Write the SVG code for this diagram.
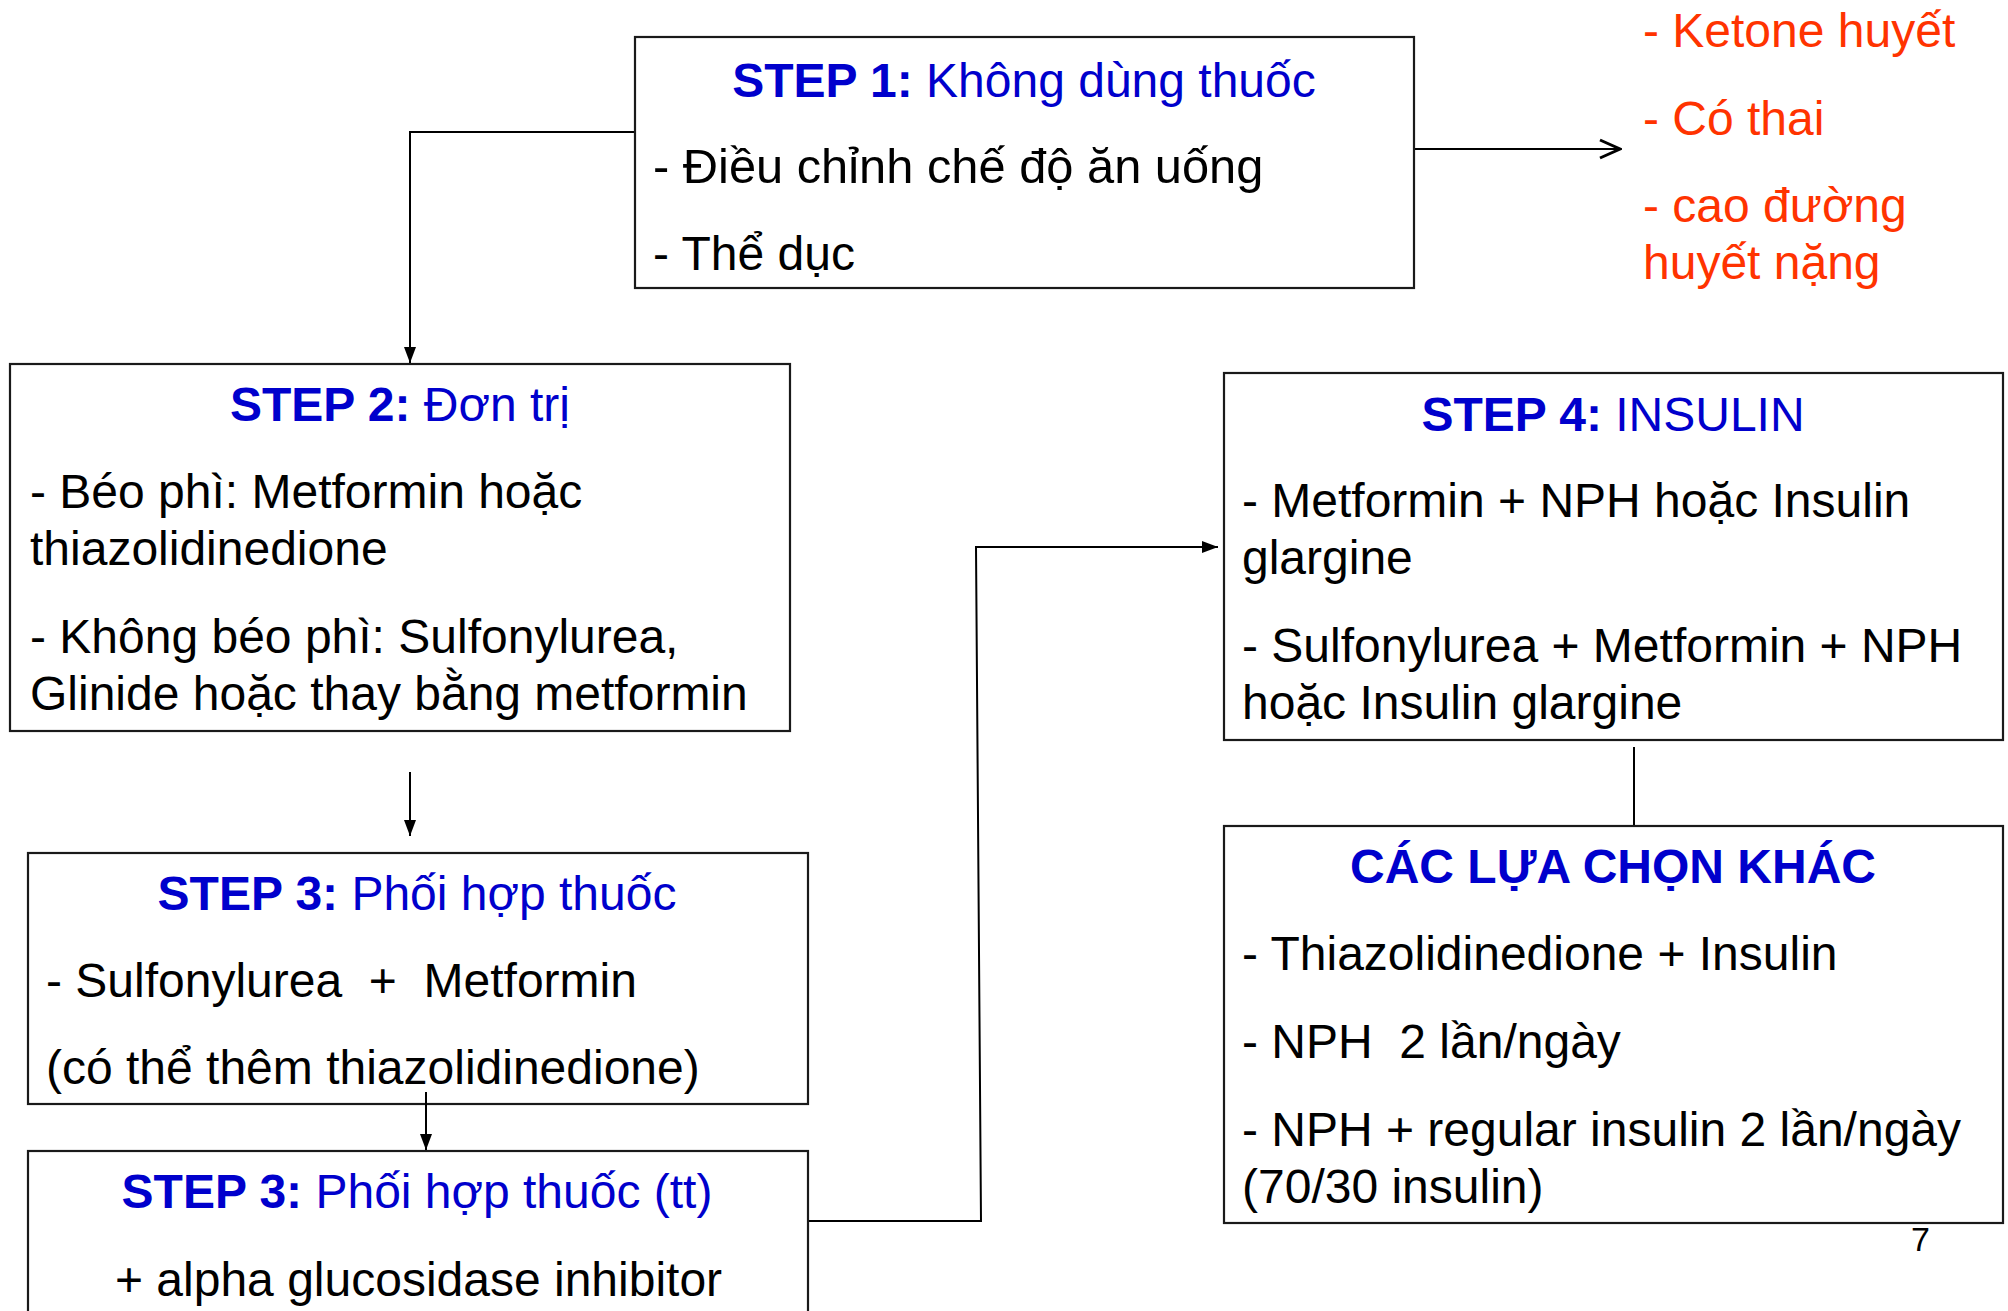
<svg xmlns="http://www.w3.org/2000/svg" width="2008" height="1311" viewBox="0 0 2008 1311">
<defs>
<style>
text{font-family:"Liberation Sans",Arial,sans-serif;font-size:48px;fill:#000}
.t{fill:#0000CC;text-anchor:middle}
.b{font-weight:bold}
.r{fill:#FF3300}
.box{fill:#fff;stroke:#1a1a1a;stroke-width:2.2}
.c{fill:none;stroke:#000;stroke-width:2}
</style>
<marker id="tri2" viewBox="0 0 16 16" refX="16" refY="8" markerWidth="16" markerHeight="16" orient="auto" markerUnits="userSpaceOnUse">
<path d="M0,2 L16,8 L0,14 z" fill="#000"/>
</marker>
<marker id="open" viewBox="0 0 24 24" refX="22" refY="12" markerWidth="24" markerHeight="24" orient="auto" markerUnits="userSpaceOnUse">
<path d="M2,3 L22,12 L2,21" fill="none" stroke="#000" stroke-width="3"/>
</marker>
</defs>
<rect width="2008" height="1311" fill="#fff"/>

<g id="connectors">
<polyline class="c" points="635,132 410,132 410,363" marker-end="url(#tri2)"/>
<line class="c" x1="1414" y1="149" x2="1620" y2="149" marker-end="url(#open)"/>
<line class="c" x1="410" y1="772" x2="410" y2="836" marker-end="url(#tri2)"/>
<line class="c" x1="1634" y1="747" x2="1634" y2="826"/>
<polyline class="c" points="808,1221 981,1221 976,547 1218,547" marker-end="url(#tri2)"/>
</g>

<g id="step1">
<rect class="box" x="635" y="37" width="779" height="251"/>
<text class="t" x="1024" y="97"><tspan class="b">STEP 1:</tspan> Không dùng thuốc</text>
<text x="653" y="183" style="font-size:48.8px">- Điều chỉnh chế độ ăn uống</text>
<text x="653" y="270">- Thể dục</text>
</g>

<g id="contra">
<text class="r" x="1643" y="47">- Ketone huyết</text>
<text class="r" x="1643" y="135">- Có thai</text>
<text class="r" x="1643" y="222">- cao đường</text>
<text class="r" x="1643" y="279">huyết nặng</text>
</g>

<g id="step2">
<rect class="box" x="10" y="364" width="780" height="367"/>
<text class="t" x="400" y="421"><tspan class="b">STEP 2:</tspan> Đơn trị</text>
<text x="30" y="508">- Béo phì: Metformin hoặc</text>
<text x="30" y="565">thiazolidinedione</text>
<text x="30" y="653">- Không béo phì: Sulfonylurea,</text>
<text x="30" y="710">Glinide hoặc thay bằng metformin</text>
</g>

<g id="step3">
<rect class="box" x="28" y="853" width="780" height="251"/>
<text class="t" x="417" y="910"><tspan class="b">STEP 3:</tspan> Phối hợp thuốc</text>
<text x="46" y="997" xml:space="preserve">- Sulfonylurea  +  Metformin</text>
<text x="46" y="1084">(có thể thêm thiazolidinedione)</text>
</g>

<g id="connector-3-3tt">
<line class="c" x1="426" y1="1092" x2="426" y2="1150" marker-end="url(#tri2)"/>
</g>

<g id="step3tt">
<rect class="box" x="28" y="1151" width="780" height="200"/>
<text class="t" x="417" y="1208"><tspan class="b">STEP 3:</tspan> Phối hợp thuốc (tt)</text>
<text x="115" y="1296">+ alpha glucosidase inhibitor</text>
</g>

<g id="step4">
<rect class="box" x="1224" y="373" width="779" height="367"/>
<text class="t" x="1613" y="431"><tspan class="b">STEP 4:</tspan> INSULIN</text>
<text x="1242" y="517">- Metformin + NPH hoặc Insulin</text>
<text x="1242" y="574">glargine</text>
<text x="1242" y="662">- Sulfonylurea + Metformin + NPH</text>
<text x="1242" y="719">hoặc Insulin glargine</text>
</g>

<g id="other">
<rect class="box" x="1224" y="826" width="779" height="397"/>
<text class="t b" x="1613" y="883">CÁC LỰA CHỌN KHÁC</text>
<text x="1242" y="970">- Thiazolidinedione + Insulin</text>
<text x="1242" y="1058" xml:space="preserve">- NPH  2 lần/ngày</text>
<text x="1242" y="1146">- NPH + regular insulin 2 lần/ngày</text>
<text x="1242" y="1203">(70/30 insulin)</text>
</g>

<text x="1911" y="1251" style="font-size:34px">7</text>
</svg>
